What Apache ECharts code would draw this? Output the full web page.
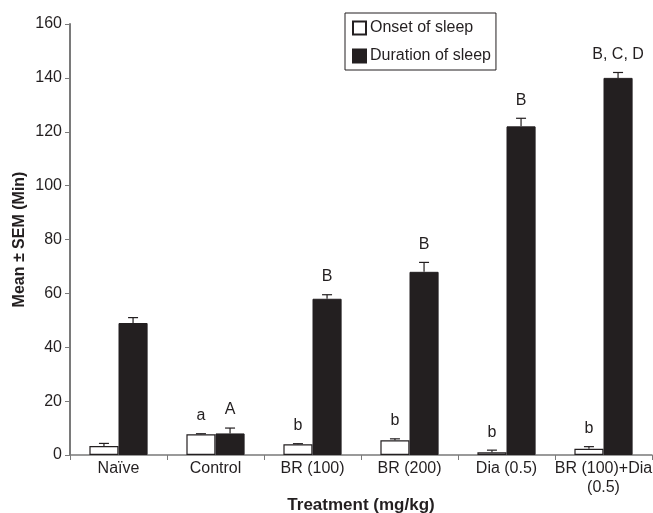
<!DOCTYPE html>
<html>
<head>
<meta charset="utf-8">
<script src="https://cdn.jsdelivr.net/npm/echarts@6/dist/echarts.min.js"></script>
<style>
  html, body { margin: 0; padding: 0; background: #fff; }
  #chart { width: 653px; height: 513px; }
</style>
</head>
<body>
<div id="chart"></div>
<script>
// sleep data
var treatments = ['Naïve', 'Control', 'BR (100)', 'BR (200)', 'Dia (0.5)', 'BR (100)+Dia\n(0.5)'];
var onsetMean = [3.3, 7.7, 4.0, 5.5, 1.0, 2.3];
var onsetErr = [1.0, 0.2, 0.2, 0.5, 0.8, 0.8];
var durationMean = [49, 8, 58, 68, 122, 140];
var durationErr = [2.0, 2.0, 1.5, 3.5, 3.0, 2.0];
var onsetMarks = ['', 'a', 'b', 'b', 'b', 'b'];
var durationMarks = ['', 'A', 'B', 'B', 'B', 'B, C, D'];

var ink = '#231f20';
var font = 'Liberation Sans, Arial, sans-serif';

var myChart = echarts.init(document.getElementById('chart'));

function errData(mean, err, marks) {
    var out = [];
    for (var i = 0; i < mean.length; i++) {
        out.push([i, mean[i], mean[i] + err[i], marks[i]]);
    }
    return out;
}

function errRender(side) {
    return function (params, api) {
        var band = api.size([1, 0])[0];
        var bw = band * 0.3;
        var dx = side * bw / 2;
        var base = api.coord([api.value(0), api.value(1)]);
        var top = api.coord([api.value(0), api.value(2)]);
        var x = base[0] + dx;
        var mark = api.value(3);
        var children = [
            { type: 'line', shape: { x1: x, y1: base[1], x2: x, y2: top[1] }, style: { stroke: ink, lineWidth: 1.2 } },
            { type: 'line', shape: { x1: x - 5, y1: top[1], x2: x + 5, y2: top[1] }, style: { stroke: ink, lineWidth: 1.2 } }
        ];
        if (mark) {
            children.push({
                type: 'text',
                style: {
                    x: x, y: top[1] - 10, text: mark,
                    align: 'center', verticalAlign: 'bottom',
                    fill: ink, font: '16px ' + font
                }
            });
        }
        return { type: 'group', children: children };
    };
}

option = {
    animation: false,
    backgroundColor: '#fff',
    textStyle: { fontFamily: font },
    grid: { left: 70, right: 1, top: 24, bottom: 58, outerBoundsMode: 'none', containLabel: false },
    legend: {
        orient: 'vertical',
        left: 345,
        top: 13,
        padding: [7, 5, 6, 7],
        itemGap: 12,
        itemWidth: 13,
        itemHeight: 13,
        icon: 'rect',
        borderColor: ink,
        borderWidth: 1,
        backgroundColor: '#fff',
        textStyle: { fontSize: 16, color: ink, fontFamily: font, padding: [0, 0, 0, -1] },
        data: ['Onset of sleep', 'Duration of sleep']
    },
    xAxis: {
        type: 'category',
        data: treatments,
        name: 'Treatment (mg/kg)',
        nameLocation: 'middle',
        nameGap: 42,
        nameMoveOverlap: false,
        nameTextStyle: { fontSize: 17, fontWeight: 'bold', color: ink },
        axisLine: { lineStyle: { color: '#7a7a7a', width: 1.5 } },
        axisTick: { show: true, length: 5, lineStyle: { color: '#7a7a7a' } },
        axisLabel: { fontSize: 16, color: ink, margin: 4, lineHeight: 19, interval: 0 }
    },
    yAxis: {
        type: 'value',
        min: 0,
        max: 160,
        interval: 20,
        name: 'Mean ± SEM (Min)',
        nameLocation: 'middle',
        nameGap: 42,
        nameMoveOverlap: false,
        nameTextStyle: { fontSize: 16, fontWeight: 'bold', color: ink },
        axisLine: { show: true, lineStyle: { color: '#7a7a7a', width: 2 } },
        axisTick: { show: true, length: 5, lineStyle: { color: '#7a7a7a' } },
        axisLabel: { fontSize: 16, color: ink, margin: 8 },
        splitLine: { show: false }
    },
    series: [
        {
            name: 'Onset of sleep',
            type: 'bar',
            barWidth: '30%',
            barGap: 0,
            itemStyle: { color: '#fff', borderColor: ink, borderWidth: 1.2 },
            data: onsetMean
        },
        {
            name: 'Duration of sleep',
            type: 'bar',
            barWidth: '30%',
            barGap: 0,
            itemStyle: { color: ink, borderColor: ink, borderWidth: 1 },
            data: durationMean
        },
        {
            type: 'custom',
            renderItem: errRender(-1),
            data: errData(onsetMean, onsetErr, onsetMarks),
            z: 5
        },
        {
            type: 'custom',
            renderItem: errRender(1),
            data: errData(durationMean, durationErr, durationMarks),
            z: 5
        }
    ]
};
myChart.setOption(option);
</script>
</body>
</html>
